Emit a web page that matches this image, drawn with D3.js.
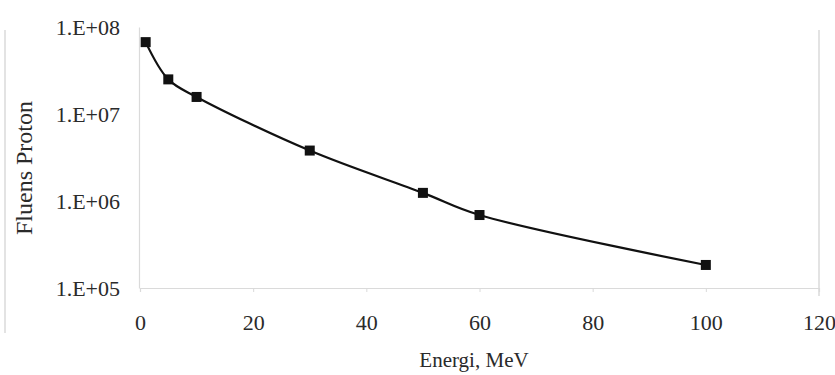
<!DOCTYPE html>
<html>
<head>
<meta charset="utf-8">
<script src="https://cdn.jsdelivr.net/npm/d3@7"></script>
<style>
  html, body { margin: 0; padding: 0; background: #fff; }
  svg { display: block; }
  text { font-family: "Liberation Serif", "Times New Roman", serif; fill: #2a2a2a; }
</style>
</head>
<body>
<svg id="chart" width="835" height="375"></svg>
<script>
// ---- data ----
const energy = [1, 5, 10, 30, 50, 60, 100];                 // MeV
const fluence = [6.7e7, 2.5e7, 1.57e7, 3.8e6, 1.24e6, 6.9e5, 1.84e5];
const xTicks = [0, 20, 40, 60, 80, 100, 120];
const yTicks = [1e5, 1e6, 1e7, 1e8];
const yTickLabels = ["1.E+05", "1.E+06", "1.E+07", "1.E+08"];
const xTitle = "Energi, MeV";
const yTitle = "Fluens Proton";

(function () {
const svg = d3.select("#chart");
const pL = 140, pR = 819, pT = 27, pB = 288;

const x = d3.scaleLinear().domain([0, 120]).range([pL, pR]);
const y = d3.scaleLog().domain([1e5, 1e8]).range([pB, pT]);

// faint frame lines (scanned look)
const faint = "#dadada";
svg.append("line").attr("x1", 5).attr("x2", 5).attr("y1", 30).attr("y2", 333)
  .attr("stroke", faint).attr("stroke-width", 1.5);
svg.append("line").attr("x1", pR).attr("x2", pR).attr("y1", 30).attr("y2", 296)
  .attr("stroke", faint).attr("stroke-width", 1.5);

// x axis
const xAxis = d3.axisBottom(x).tickValues(xTicks).tickSize(4).tickPadding(22)
  .tickFormat(d3.format("d"));
const gx = svg.append("g").attr("transform", `translate(0,${pB})`).call(xAxis);
gx.select(".domain").attr("stroke", faint).attr("stroke-width", 1.2);
gx.selectAll(".tick line").attr("stroke", faint);
gx.selectAll(".tick text").attr("font-size", 22).attr("fill", "#2a2a2a")
  .attr("font-family", "Liberation Serif, serif");

// y axis
const yAxis = d3.axisLeft(y).tickValues(yTicks).tickSize(0).tickPadding(19)
  .tickFormat((d, i) => yTickLabels[i]);
const gy = svg.append("g").attr("transform", `translate(${pL - 1},0)`).call(yAxis);
gy.select(".domain").attr("stroke", faint).attr("stroke-width", 1.2);
gy.selectAll(".tick text").attr("font-size", 22).attr("fill", "#2a2a2a")
  .attr("font-family", "Liberation Serif, serif");

// axis titles
svg.append("text").attr("x", 474).attr("y", 367).attr("text-anchor", "middle")
  .attr("font-size", 21).text(xTitle);
svg.append("text").attr("transform", "translate(32,168) rotate(-90)")
  .attr("text-anchor", "middle").attr("font-size", 24).text(yTitle);

// series
const pts = energy.map((e, i) => [e, fluence[i]]);
const line = d3.line().x(d => x(d[0])).y(d => y(d[1])).curve(d3.curveCatmullRom.alpha(0.5));
svg.append("path").datum(pts).attr("d", line)
  .attr("fill", "none").attr("stroke", "#111").attr("stroke-width", 2.2);

const ms = 10;
svg.selectAll("rect.m").data(pts).enter().append("rect").attr("class", "m")
  .attr("x", d => x(d[0]) - ms / 2).attr("y", d => y(d[1]) - ms / 2)
  .attr("width", ms).attr("height", ms).attr("fill", "#111");
})();
</script>
</body>
</html>
